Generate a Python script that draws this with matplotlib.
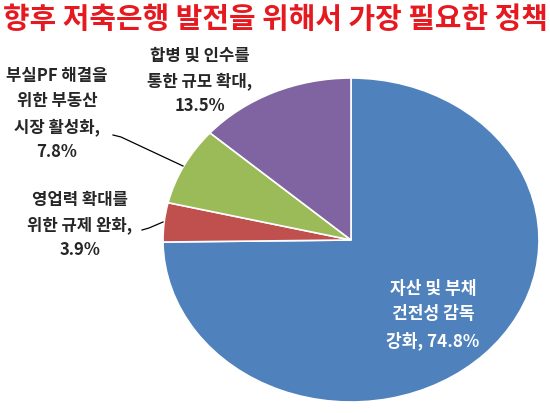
import matplotlib
matplotlib.use("Agg")
import matplotlib.pyplot as plt

plt.rcParams['font.family'] = ['Noto Sans CJK KR', 'DejaVu Sans']

# Data
title = "향후 저축은행 발전을 위해서 가장 필요한 정책"
labels = ["자산 및 부채\n건전성 감독\n강화, 74.8%",
          "영업력 확대를\n위한 규제 완화,\n3.9%",
          "부실PF 해결을\n위한 부동산\n시장 활성화,\n7.8%",
          "합병 및 인수를\n통한 규모 확대,\n13.5%"]
shares = [74.8, 3.9, 7.8, 13.5]
colors = ["#4F81BD", "#C0504D", "#9BBB59", "#8064A2"]

W, H = 550, 413
fig = plt.figure(figsize=(W / 100, H / 100), dpi=100)

# pie is a bit wider than tall in the reference: rx ~188px, ry ~162px, centre (351, 240)
cx, cy, rx, ry = 351, 240, 188, 162
ax = fig.add_axes([(cx - rx) / W, (H - cy - ry) / H, 2 * rx / W, 2 * ry / H])
ax.pie(shares, colors=colors, startangle=90, counterclock=False,
       wedgeprops=dict(edgecolor="white", linewidth=1.2))
ax.set_aspect("auto")
ax.set_xlim(-1, 1)
ax.set_ylim(-1, 1)

def px(x, y):
    # pixel position (from top-left) -> data coords of the pie axes
    return (x - cx) / rx, (cy - y) / ry

fig.text(0.5, 1 - 19 / H, title, ha="center", va="center", fontsize=20.8,
         fontweight="heavy", color="#E5191F")

lab_kw = dict(ha="center", va="center", fontsize=12, fontweight="bold",
              color="#262626", linespacing=1.53, clip_on=False)

# big blue slice, label inside in white
ax.text(*px(433, 315), labels[0], **dict(lab_kw, color="white", fontsize=12.3))

# red slice
ax.text(*px(80, 225), labels[1], **lab_kw)
ax.plot(*zip(px(142, 230), px(149, 228), px(163, 222)), color="black", lw=0.9, clip_on=False)

# green slice
ax.text(*px(57, 114), labels[2], **lab_kw)
ax.plot(*zip(px(113, 135), px(121, 137), px(183, 166)), color="black", lw=0.9, clip_on=False)

# purple slice
ax.text(*px(200, 81), labels[3], **lab_kw)

fig.savefig("out.png", dpi=100)
